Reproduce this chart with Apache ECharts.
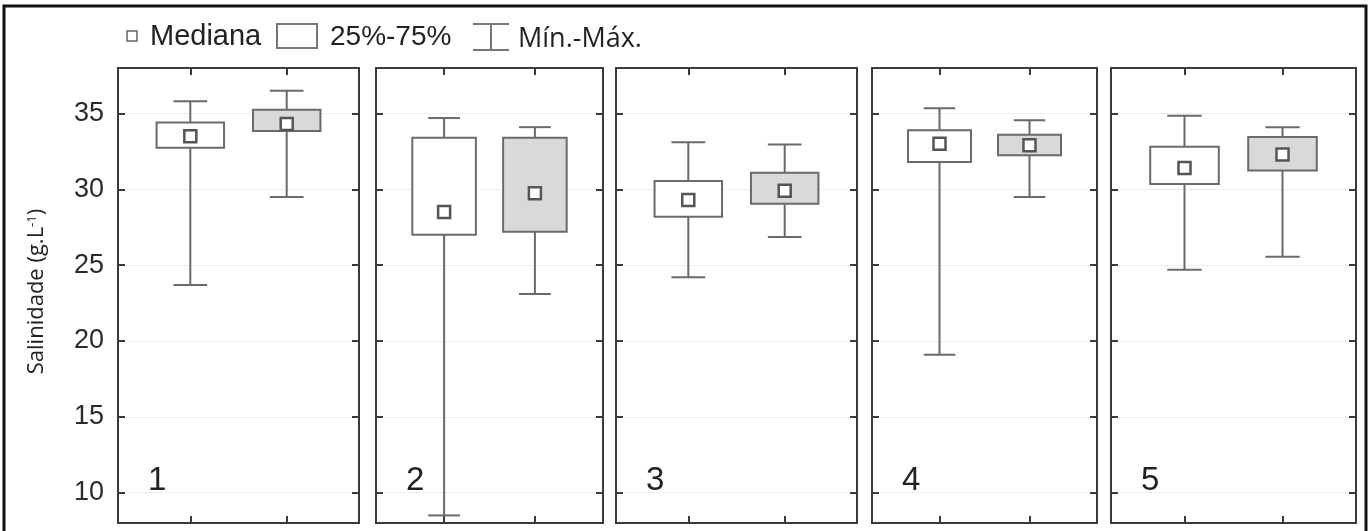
<!DOCTYPE html>
<html>
<head>
<meta charset="utf-8">
<script src="https://cdn.jsdelivr.net/npm/echarts@6/dist/echarts.min.js"></script>
<style>
html,body{margin:0;padding:0;background:#fff;}
#chart{width:1371px;height:531px;}
</style>
</head>
<body>
<div id="chart"></div>
<script>
// ---- data ----
const panels = ['1', '2', '3', '4', '5'];
const groupPositions = [1, 2];
const yTicks = [10, 15, 20, 25, 30, 35];

// first box of each panel (white)
const minA    = [23.7, 8.5, 24.2, 19.1, 24.7];
const q1A     = [32.75, 27.0, 28.2, 31.8, 30.35];
const medianA = [33.5, 28.5, 29.3, 33.0, 31.4];
const q3A     = [34.4, 33.4, 30.55, 33.9, 32.8];
const maxA    = [35.8, 34.7, 33.1, 35.35, 34.85];

// second box of each panel (grey)
const minB    = [29.5, 23.1, 26.85, 29.5, 25.55];
const q1B     = [33.85, 27.2, 29.05, 32.25, 31.25];
const medianB = [34.3, 29.75, 29.9, 32.9, 32.3];
const q3B     = [35.25, 33.4, 31.1, 33.6, 33.45];
const maxB    = [36.5, 34.1, 32.95, 34.55, 34.1];

// ---- layout ----
const gridLefts  = [118, 376, 616, 872, 1111];
const gridWidths = [241, 227, 241, 225, 245];
const gridTop = 68, gridHeight = 455;

const LINE = '#6a6a6a';
const FRAME = '#3a3a3a';
const FONT = '"Liberation Sans", Arial, sans-serif';
const FONT2 = '"Open Sans", sans-serif';

const chart = echarts.init(document.getElementById('chart'), null, {renderer: 'canvas'});

const grid = [], xAxis = [], yAxis = [], series = [], graphic = [];

function whiskerItem(params, api) {
  const x = api.value(0);
  const lo = api.coord([x, api.value(1)]);
  const hi = api.coord([x, api.value(5)]);
  const w = api.size([0.7, 0])[0];
  const cw = w / 2;
  const st = {stroke: LINE, lineWidth: 2};
  return {type: 'group', children: [
    {type: 'line', shape: {x1: lo[0], y1: lo[1], x2: hi[0], y2: hi[1]}, style: st},
    {type: 'line', shape: {x1: lo[0] - cw / 2, y1: lo[1], x2: lo[0] + cw / 2, y2: lo[1]}, style: st},
    {type: 'line', shape: {x1: hi[0] - cw / 2, y1: hi[1], x2: hi[0] + cw / 2, y2: hi[1]}, style: st}
  ]};
}
function boxItem(params, api) {
  const x = api.value(0);
  const q1 = api.coord([x, api.value(2)]);
  const q3 = api.coord([x, api.value(4)]);
  const w = api.size([0.7, 0])[0];
  return {type: 'rect',
    shape: {x: q3[0] - w / 2, y: q3[1], width: w, height: q1[1] - q3[1]},
    style: {fill: params.dataIndex === 0 ? '#ffffff' : '#d9d9d9', stroke: LINE, lineWidth: 2}};
}

panels.forEach((p, i) => {
  grid.push({left: gridLefts[i], top: gridTop, width: gridWidths[i], height: gridHeight,
    show: true, borderColor: FRAME, borderWidth: 2, backgroundColor: 'transparent'});
  const xBase = {gridIndex: i, type: 'value', min: 0.25, max: 2.75,
    axisLine: {show: false}, axisLabel: {show: false}, splitLine: {show: false},
    axisTick: {show: true, inside: true, length: 7, customValues: groupPositions, lineStyle: {color: FRAME, width: 2}}};
  xAxis.push(Object.assign({position: 'bottom'}, xBase));
  xAxis.push(Object.assign({position: 'top'}, xBase));
  const yBase = {gridIndex: i, type: 'value', min: 8, max: 38,
    axisLine: {show: false},
    axisTick: {show: true, inside: true, length: 7, customValues: yTicks, lineStyle: {color: FRAME, width: 2}}};
  yAxis.push(Object.assign({}, yBase, {position: 'left',
    axisLabel: {show: i === 0, customValues: yTicks, fontSize: 27, color: '#2a2a2a', fontFamily: FONT, margin: 14},
    splitLine: {show: true, lineStyle: {type: 'dotted', color: '#dcdcdc', width: 1}},
    name: i === 0 ? 'Salinidade (g.L{sup|-1})' : '',
    nameLocation: 'middle', nameGap: 70,
    nameTextStyle: {fontSize: 22, color: '#222', fontFamily: FONT2, padding: [0, 0, 0, 8],
      rich: {sup: {fontSize: 13, verticalAlign: 'top', fontFamily: FONT2, color: '#222'}}}
  }));
  yAxis.push(Object.assign({}, yBase, {position: 'right', axisLabel: {show: false}, splitLine: {show: false}}));

  const boxData = [
    [groupPositions[0], minA[i], q1A[i], medianA[i], q3A[i], maxA[i]],
    [groupPositions[1], minB[i], q1B[i], medianB[i], q3B[i], maxB[i]]
  ];
  series.push({name: 'Mín.-Máx.', type: 'custom', xAxisIndex: 2 * i, yAxisIndex: 2 * i,
    renderItem: whiskerItem, encode: {x: 0, y: [1, 2, 3, 4, 5]}, data: boxData, z: 2, silent: true});
  series.push({name: '25%-75%', type: 'custom', xAxisIndex: 2 * i, yAxisIndex: 2 * i,
    renderItem: boxItem, encode: {x: 0, y: [1, 2, 3, 4, 5]}, data: boxData, z: 3, silent: true});
  series.push({name: 'Mediana', type: 'scatter', xAxisIndex: 2 * i, yAxisIndex: 2 * i,
    symbol: 'rect', symbolSize: 12, z: 4, silent: true,
    itemStyle: {color: '#ffffff', borderColor: '#555', borderWidth: 2.5, opacity: 1},
    data: [[groupPositions[0], medianA[i]], [groupPositions[1], medianB[i]]]});

  graphic.push({type: 'text', left: gridLefts[i] + 30, top: 464, z: 10,
    style: {text: p, fontSize: 33, fontFamily: FONT, fill: '#222'}});
});

// legend (drawn as graphic elements)
graphic.push(
  {type: 'rect', shape: {x: 127, y: 31, width: 10, height: 10}, style: {fill: '#fff', stroke: '#666', lineWidth: 1.5}},
  {type: 'text', x: 150, y: 37, style: {text: 'Mediana', fontSize: 29, fontFamily: FONT, fill: '#222', verticalAlign: 'middle'}},
  {type: 'rect', shape: {x: 277, y: 24, width: 40, height: 24}, style: {fill: '#fff', stroke: '#777', lineWidth: 2}},
  {type: 'text', x: 330, y: 37, style: {text: '25%-75%', fontSize: 28, fontFamily: FONT, fill: '#222', verticalAlign: 'middle'}},
  {type: 'line', shape: {x1: 473, y1: 24, x2: 509, y2: 24}, style: {stroke: '#777', lineWidth: 2}},
  {type: 'line', shape: {x1: 491, y1: 24, x2: 491, y2: 50}, style: {stroke: '#777', lineWidth: 2}},
  {type: 'line', shape: {x1: 473, y1: 50, x2: 509, y2: 50}, style: {stroke: '#777', lineWidth: 2}},
  {type: 'text', x: 518, y: 39, style: {text: 'Mín.-Máx.', fontSize: 27, fontFamily: FONT2, fill: '#222', verticalAlign: 'middle'}},
  {type: 'rect', shape: {x: 4, y: 6, width: 1362, height: 530}, style: {fill: 'none', stroke: '#111', lineWidth: 3}, z: 20}
);

chart.setOption({
  backgroundColor: '#ffffff',
  animation: false,
  grid: grid,
  xAxis: xAxis,
  yAxis: yAxis,
  series: series,
  graphic: graphic
});
</script>
</body>
</html>
